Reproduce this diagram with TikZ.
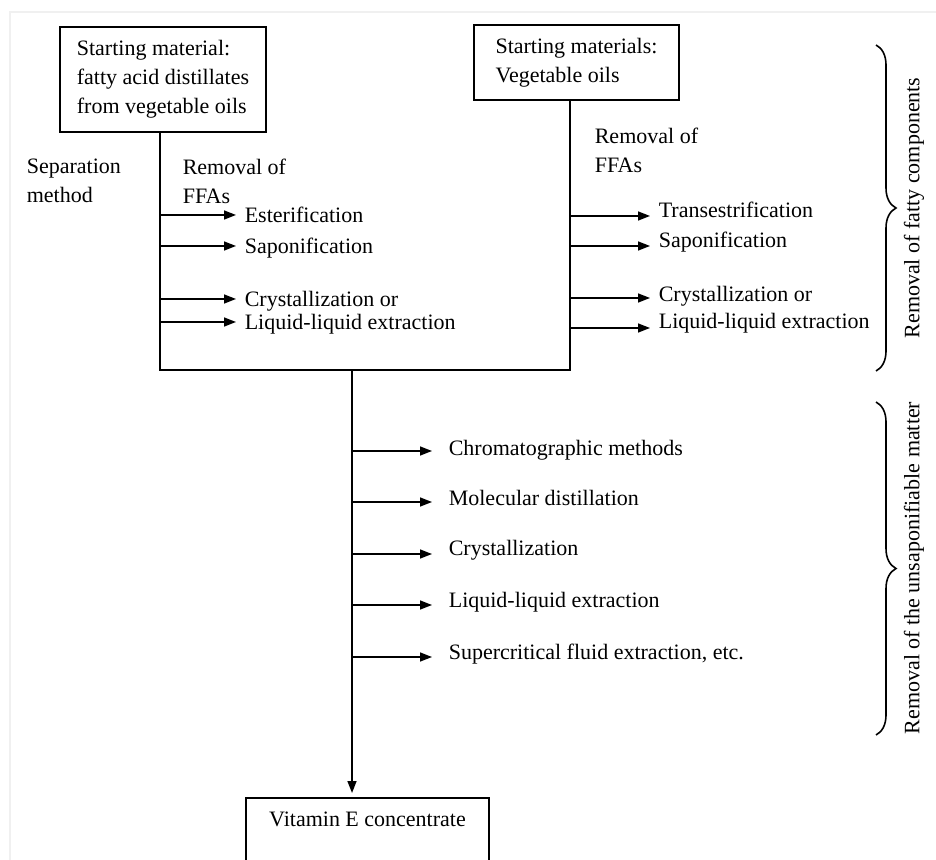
\documentclass[tikz,border=0pt]{standalone}
\usepackage{fontspec}
\setmainfont{Liberation Serif}
\usetikzlibrary{arrows.meta,positioning,decorations.pathreplacing}

\begin{document}
\begin{tikzpicture}[
    x=0.5pt, y=-0.5pt,
    font=\fontsize{11}{14.5}\selectfont,
    line width=0.8pt,
    box/.style={draw, align=left, inner xsep=8pt, inner ysep=4pt},
    lbl/.style={align=left, inner sep=0pt, anchor=west},
    item/.style={anchor=west, inner xsep=4pt, inner ysep=0pt, text depth=0pt},
    arrow/.style={-{Triangle[length=6pt, width=4.5pt]}},
    brace/.style={decorate, decoration={brace, amplitude=10pt}},
    side/.style={rotate=90, inner sep=0pt}
  ]
    \useasboundingbox (0,0) rectangle (936,860);
    \clip (0,0) rectangle (936,860);
    \draw[gray!12, line width=0.8pt] (936,12) -- (10,12) -- (10,860);

    % starting materials
    \node[box, minimum width=103pt, minimum height=52.5pt] (fad) at (163,79.5) {Starting material:\\fatty acid distillates\\from vegetable oils};
    \node[box, minimum width=102.5pt, minimum height=37.5pt] (veg) at (576.5,62.5) {Starting materials:\\Vegetable oils};
    \node[lbl] (sep) at (26,181) {Separation\\method};
    \node[lbl] (ffal) at (182,181) {Removal of\\FFAs};
    \node[lbl] (ffar) at (594,150) {Removal of\\FFAs};

    \coordinate (lbot) at (160,370);
    \coordinate (rbot) at (570,370);
    \coordinate (mid) at (352,370);
    \draw (fad.south -| lbot) -- (lbot) -- (rbot) -- (veg.south -| rbot);

    % left branch
    \coordinate (l1) at (160,215);
    \coordinate (l2) at (160,246);
    \coordinate (l3) at (160,299);
    \coordinate (l4) at (160,322);
    \node[item, right=38pt of l1] (ester) {Esterification};
    \node[item, right=38pt of l2] (sapl) {Saponification};
    \node[item, right=38pt of l3] (cryl) {Crystallization or};
    \node[item, right=38pt of l4] (llel) {Liquid-liquid extraction};
    \draw[arrow] (l1) -- (ester.west);
    \draw[arrow] (l2) -- (sapl.west);
    \draw[arrow] (l3) -- (cryl.west);
    \draw[arrow] (l4) -- (llel.west);

    % right branch
    \coordinate (r1) at (570,216);
    \coordinate (r2) at (570,246);
    \coordinate (r3) at (570,298);
    \coordinate (r4) at (570,328);
    \node[item, right=40pt of r1, yshift=3pt] (trans) {Transestrification};
    \node[item, right=40pt of r2, yshift=3pt] (sapr) {Saponification};
    \node[item, right=40pt of r3, yshift=2pt] (cryr) {Crystallization or};
    \node[item, right=40pt of r4, yshift=3.5pt] (ller) {Liquid-liquid extraction};
    \draw[arrow] (r1) -- (r1 -| trans.west);
    \draw[arrow] (r2) -- (r2 -| sapr.west);
    \draw[arrow] (r3) -- (r3 -| cryr.west);
    \draw[arrow] (r4) -- (r4 -| ller.west);

    % unsaponifiable matter
    \coordinate (m1) at (352,451);
    \coordinate (m2) at (352,502);
    \coordinate (m3) at (352,554);
    \coordinate (m4) at (352,605);
    \coordinate (m5) at (352,657);
    \node[item, right=44pt of m1, yshift=1.5pt] (chrom) {Chromatographic methods};
    \node[item, right=44pt of m2, yshift=2pt] (mold) {Molecular distillation};
    \node[item, right=44pt of m3, yshift=3pt] (crym) {Crystallization};
    \node[item, right=44pt of m4, yshift=2.5pt] (llem) {Liquid-liquid extraction};
    \node[item, right=44pt of m5, yshift=2.5pt] (scfe) {Supercritical fluid extraction, etc.};
    \draw[arrow, shorten >=4pt] (m1) -- (m1 -| chrom.west);
    \draw[arrow, shorten >=4pt] (m2) -- (m2 -| mold.west);
    \draw[arrow, shorten >=4pt] (m3) -- (m3 -| crym.west);
    \draw[arrow, shorten >=4pt] (m4) -- (m4 -| llem.west);
    \draw[arrow, shorten >=4pt] (m5) -- (m5 -| scfe.west);

    \node[box, align=center, minimum width=121.5pt, anchor=north, text depth=30pt, inner ysep=7pt] (vit) at (367.5,797) {Vitamin E concentrate};
    \draw[arrow, shorten >=2pt] (mid) -- (vit.north -| mid);

    % braces
    \coordinate (b1t) at (876,45);
    \coordinate (b1b) at (876,371);
    \coordinate (b2t) at (876,402);
    \coordinate (b2b) at (876,735);
    \draw[brace] (b1t) -- (b1b);
    \draw[brace] (b2t) -- (b2b);
    \node[side] (fatty) at (914,208) {Removal of fatty components};
    \node[side] (unsap) at (914,568) {Removal of the unsaponifiable matter};
  \end{tikzpicture}
\end{document}
